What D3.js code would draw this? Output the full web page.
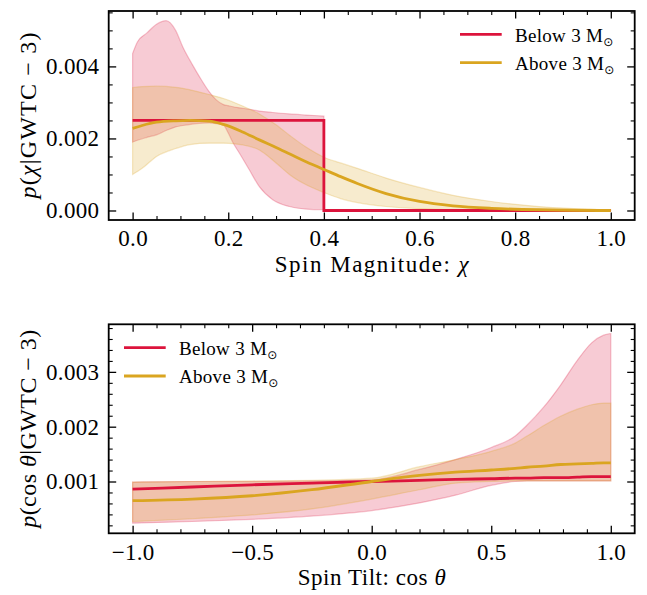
<!DOCTYPE html>
<html><head><meta charset="utf-8">
<script src="https://cdn.jsdelivr.net/npm/d3@7"></script>
<style>
body{margin:0;background:#fff}
svg{display:block}
svg text{font-family:"Liberation Serif","DejaVu Serif",serif;fill:#000}
</style>
</head><body>
<svg id="c" width="647" height="595"></svg>
<script>
// ---------------- data: spin magnitude ----------------
const seriesNames = ["Below 3 M", "Above 3 M"];
const chiBelowX   = [0, 0.4, 0.4, 1.0];
const chiBelowMed = [0.0025, 0.0025, 0, 0];
const chiBelowBandX  = [0, 0.01, 0.03, 0.05, 0.07, 0.09, 0.105, 0.125, 0.14, 0.16, 0.175, 0.19, 0.2, 0.21, 0.2235, 0.244, 0.265, 0.293, 0.328, 0.363, 0.4];
const chiBelowBandHi = [0.00436, 0.00468, 0.00493, 0.00517, 0.00527, 0.00500, 0.00454, 0.00405, 0.00371, 0.00330, 0.00307, 0.00294, 0.00291, 0.00288, 0.00285, 0.00281, 0.00276, 0.00272, 0.00268, 0.00265, 0.00262];
const chiBelowBandLo = [0.00190, 0.00195, 0.00203, 0.00210, 0.00222, 0.00232, 0.00236, 0.00240, 0.00242, 0.00243, 0.00241, 0.00237, 0.00215, 0.00188, 0.00159, 0.00113, 0.00066, 0.00030, 0.00011, 0.00004, 0.00002];
const chiAboveX   = [0, 0.02, 0.05, 0.09, 0.12, 0.16, 0.19, 0.23, 0.265, 0.3, 0.33, 0.365, 0.4, 0.435, 0.47, 0.53, 0.6, 0.67, 0.75, 0.85, 1.0];
const chiAboveMed = [0.00228, 0.00236, 0.00245, 0.00249, 0.00250, 0.00248, 0.00239, 0.00218, 0.00196, 0.00175, 0.00156, 0.00134, 0.00114, 0.00094, 0.00075, 0.00047, 0.00025, 0.00013, 0.00006, 0.00002, 0.0];
const chiAboveHi  = [0.00341, 0.00344, 0.00345, 0.00342, 0.00335, 0.00322, 0.00311, 0.00290, 0.00268, 0.00238, 0.00207, 0.00174, 0.00148, 0.00132, 0.00117, 0.00090, 0.00064, 0.00042, 0.00025, 0.00011, 0.00002];
const chiAboveLo  = [0.00100, 0.00117, 0.00150, 0.00172, 0.00183, 0.00187, 0.00187, 0.00182, 0.00168, 0.00132, 0.00098, 0.00070, 0.00050, 0.00033, 0.00022, 0.00011, 0.00005, 0.00002, 0.00001, 0, 0];

// ---------------- data: spin tilt ----------------
const cosX        = [-1, -0.75, -0.5, -0.25, 0, 0.2, 0.35, 0.5, 0.6, 0.65, 0.72, 0.79, 0.86, 0.92, 0.97, 1.0];
const cosBelowMed = [0.00086, 0.00090, 0.00094, 0.00097, 0.00100, 0.00102, 0.00104, 0.00105, 0.00106, 0.00106, 0.00107, 0.00107, 0.00108, 0.00109, 0.00109, 0.00109];
const cosBelowHi  = [0.00099, 0.00100, 0.00100, 0.00101, 0.00103, 0.00122, 0.00140, 0.00162, 0.00183, 0.00203, 0.00236, 0.00276, 0.00321, 0.00353, 0.00367, 0.00370];
const cosBelowLo  = [0.00024, 0.00027, 0.00031, 0.00037, 0.00047, 0.00061, 0.00075, 0.00093, 0.00100, 0.00101, 0.00101, 0.00101, 0.00101, 0.00101, 0.00101, 0.00101];
const cosAboveMed = [0.00065, 0.00068, 0.00074, 0.00085, 0.00100, 0.00111, 0.00117, 0.00121, 0.00124, 0.00126, 0.00128, 0.00131, 0.00132, 0.00133, 0.00134, 0.00134];
const cosAboveHi  = [0.00099, 0.00100, 0.00101, 0.00102, 0.00106, 0.00127, 0.00140, 0.00155, 0.00170, 0.00183, 0.00202, 0.00219, 0.00232, 0.00240, 0.00243, 0.00243];
const cosAboveLo  = [0.00027, 0.00032, 0.00039, 0.00050, 0.00068, 0.00085, 0.00097, 0.00100, 0.00101, 0.00101, 0.00101, 0.00101, 0.00101, 0.00101, 0.00101, 0.00101];

// ---------------- ticks ----------------
const chiXTicks = [0, 0.2, 0.4, 0.6, 0.8, 1.0];
const chiXTickLabels = ["0.0", "0.2", "0.4", "0.6", "0.8", "1.0"];
const chiXMinor = [0.05,0.1,0.15,0.25,0.3,0.35,0.45,0.5,0.55,0.65,0.7,0.75,0.85,0.9,0.95];
const chiYTicks = [0, 0.002, 0.004];
const chiYTickLabels = ["0.000", "0.002", "0.004"];
const chiYMinor = [0.0005,0.001,0.0015,0.0025,0.003,0.0035,0.0045,0.005,0.0055];
const cosXTicks = [-1, -0.5, 0, 0.5, 1];
const cosXTickLabels = ["\u22121.0", "\u22120.5", "0.0", "0.5", "1.0"];
const cosXMinor = [-0.9,-0.8,-0.7,-0.6,-0.4,-0.3,-0.2,-0.1,0.1,0.2,0.3,0.4,0.6,0.7,0.8,0.9];
const cosYTicks = [0.001, 0.002, 0.003];
const cosYTickLabels = ["0.001", "0.002", "0.003"];
const cosYMinor = [0.0002,0.0004,0.0006,0.0008,0.0012,0.0014,0.0016,0.0018,0.0022,0.0024,0.0026,0.0028,0.0032,0.0034,0.0036,0.0038];

const RED = "#DC143C", GOLD = "#DAA520";
const svg = d3.select("#c");
const FONT = "'Liberation Serif','DejaVu Serif',serif";
const TFS = 23, LFS = 23;

function zip(xs, a, b){ return xs.map((x,i)=>({x, a: a ? a[i] : null, b: b ? b[i] : null})); }

function panel(cfg){
  const x = d3.scaleLinear().domain(cfg.xDom).range([cfg.L, cfg.R]);
  const y = d3.scaleLinear().domain(cfg.yDom).range([cfg.B, cfg.T]);
  const g = svg.append("g");
  const area = d3.area().curve(d3.curveMonotoneX).x(d=>x(d.x)).y0(d=>y(d.b)).y1(d=>y(d.a));
  cfg.bands.forEach(bd=>{
    g.append("path").datum(zip(bd.x, bd.hi, bd.lo)).attr("d", area)
      .attr("fill", bd.color).attr("fill-opacity", 0.22)
      .attr("stroke", bd.color).attr("stroke-opacity", 0.25).attr("stroke-width", 1.2);
  });
  cfg.lines.forEach(ln=>{
    const line = d3.line().curve(ln.step ? d3.curveLinear : d3.curveMonotoneX).x(d=>x(d.x)).y(d=>y(d.a));
    g.append("path").datum(zip(ln.x, ln.y)).attr("d", line)
      .attr("fill","none").attr("stroke", ln.color).attr("stroke-width", 2.8)
      .attr("stroke-linejoin","miter");
  });
  // axes
  const fmtX = d=> cfg.xLabels[cfg.xTicks.indexOf(d)];
  const fmtY = d=> cfg.yLabels[cfg.yTicks.indexOf(d)];
  const styleAx = (sel, w)=>{ sel.attr("font-family", FONT).attr("font-size", TFS); sel.select(".domain").remove(); sel.selectAll(".tick line").attr("stroke","#000").attr("stroke-width", w); sel.selectAll("text").attr("fill","#000").style("letter-spacing","0.3px"); };
  const MJ = 7.5, MN = 4;
  g.append("g").attr("transform",`translate(0,${cfg.B})`).call(d3.axisBottom(x).tickValues(cfg.xTicks).tickFormat(fmtX).tickSize(-MJ).tickPadding(10)).call(s=>styleAx(s,1.3));
  g.append("g").attr("transform",`translate(0,${cfg.B})`).call(d3.axisBottom(x).tickValues(cfg.xMinor).tickFormat("").tickSize(-MN)).call(s=>styleAx(s,1.1));
  g.append("g").attr("transform",`translate(0,${cfg.T})`).call(d3.axisTop(x).tickValues(cfg.xTicks).tickFormat("").tickSize(-MJ)).call(s=>styleAx(s,1.3));
  g.append("g").attr("transform",`translate(0,${cfg.T})`).call(d3.axisTop(x).tickValues(cfg.xMinor).tickFormat("").tickSize(-MN)).call(s=>styleAx(s,1.1));
  g.append("g").attr("transform",`translate(${cfg.L},0)`).call(d3.axisLeft(y).tickValues(cfg.yTicks).tickFormat(fmtY).tickSize(-MJ).tickPadding(9.4)).call(s=>styleAx(s,1.3));
  g.append("g").attr("transform",`translate(${cfg.L},0)`).call(d3.axisLeft(y).tickValues(cfg.yMinor).tickFormat("").tickSize(-MN)).call(s=>styleAx(s,1.1));
  g.append("g").attr("transform",`translate(${cfg.R},0)`).call(d3.axisRight(y).tickValues(cfg.yTicks).tickFormat("").tickSize(-MJ)).call(s=>styleAx(s,1.3));
  g.append("g").attr("transform",`translate(${cfg.R},0)`).call(d3.axisRight(y).tickValues(cfg.yMinor).tickFormat("").tickSize(-MN)).call(s=>styleAx(s,1.1));
  g.append("rect").attr("x",cfg.L).attr("y",cfg.T).attr("width",cfg.R-cfg.L).attr("height",cfg.B-cfg.T)
    .attr("fill","none").attr("stroke","#000").attr("stroke-width",1.8);
  // x label
  const xl = g.append("text").attr("x",(cfg.L+cfg.R)/2).attr("y",cfg.B+52).attr("text-anchor","middle")
    .attr("font-size",LFS).attr("textLength", cfg.xLabelLen).attr("lengthAdjust","spacing");
  cfg.xLabel(xl);
  // y label
  const yl = g.append("text").attr("transform",`translate(36,${(cfg.T+cfg.B)/2}) rotate(-90)`).attr("text-anchor","middle")
    .attr("font-size",24).attr("textLength", cfg.yLabelLen).attr("lengthAdjust","spacing");
  cfg.yLabel(yl);
  // legend
  const lg = g.append("g");
  cfg.lines.forEach((ln,i)=>{
    const ly = cfg.legY + i*28.3;
    lg.append("line").attr("x1",cfg.legX).attr("x2",cfg.legX+41.7).attr("y1",ly).attr("y2",ly).attr("stroke",ln.color).attr("stroke-width",2.8);
    const t = lg.append("text").attr("x",cfg.legX+55).attr("y",ly+7.3).attr("font-size",19).style("letter-spacing","0.3px");
    t.append("tspan").text(seriesNames[i]);
    t.append("tspan").attr("dy",4).attr("font-size",12).style("font-family","'DejaVu Sans'").text("\u2299");
  });
}

panel({
  L:108.7, R:634.7, T:11, B:220,
  xDom:[-0.05,1.05], yDom:[-0.000264,0.005538],
  xTicks:chiXTicks, xLabels:chiXTickLabels, xMinor:chiXMinor,
  yTicks:chiYTicks, yLabels:chiYTickLabels, yMinor:chiYMinor,
  bands:[{x:chiBelowBandX, hi:chiBelowBandHi, lo:chiBelowBandLo, color:RED},
         {x:chiAboveX, hi:chiAboveHi, lo:chiAboveLo, color:GOLD}],
  lines:[{x:chiBelowX, y:chiBelowMed, color:RED, step:true},{x:chiAboveX, y:chiAboveMed, color:GOLD}],
  legX:460, legY:34.3, xLabelLen:194, yLabelLen:166,
  xLabel:t=>{ t.append("tspan").text("Spin Magnitude: "); t.append("tspan").attr("font-style","italic").text("\u03c7"); },
  yLabel:t=>{ t.append("tspan").attr("font-style","italic").text("p"); t.append("tspan").text("("); t.append("tspan").attr("font-style","italic").text("\u03c7"); t.append("tspan").text("|GWTC \u2212 3)"); }
});
panel({
  L:108.7, R:634.7, T:324.3, B:533.3,
  xDom:[-1.1,1.1], yDom:[0.000055,0.003868],
  xTicks:cosXTicks, xLabels:cosXTickLabels, xMinor:cosXMinor,
  yTicks:cosYTicks, yLabels:cosYTickLabels, yMinor:cosYMinor,
  bands:[{x:cosX, hi:cosBelowHi, lo:cosBelowLo, color:RED},
         {x:cosX, hi:cosAboveHi, lo:cosAboveLo, color:GOLD}],
  lines:[{x:cosX, y:cosBelowMed, color:RED},{x:cosX, y:cosAboveMed, color:GOLD}],
  legX:124, legY:347.7, xLabelLen:148, yLabelLen:198,
  xLabel:t=>{ t.append("tspan").text("Spin Tilt: cos "); t.append("tspan").attr("font-style","italic").text("\u03b8"); },
  yLabel:t=>{ t.append("tspan").attr("font-style","italic").text("p"); t.append("tspan").text("(cos "); t.append("tspan").attr("font-style","italic").text("\u03b8"); t.append("tspan").text("|GWTC \u2212 3)"); }
});
</script>
</body></html>
